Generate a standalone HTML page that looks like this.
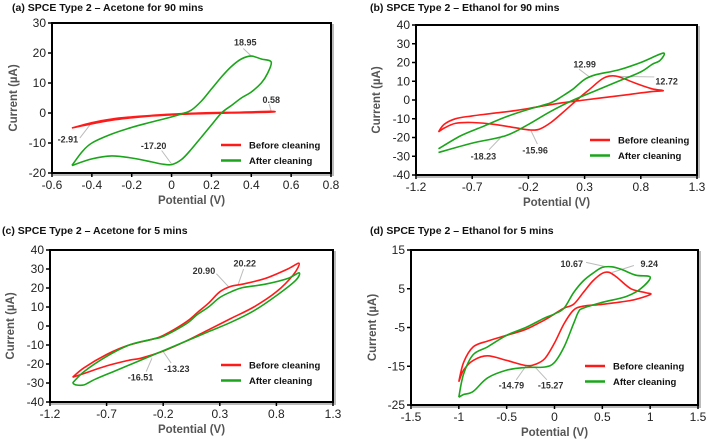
<!DOCTYPE html>
<html><head><meta charset="utf-8"><style>
body{margin:0;background:#fff}
svg{display:block;font-family:"Liberation Sans",Arial,sans-serif}
.tk{font-size:12px;fill:#222}
.ttl{font-size:10.5px;font-weight:bold;fill:#111}
.ax{font-size:11.5px;font-weight:bold;fill:#555}
.ann{font-size:9px;font-weight:bold;fill:#333}
.leg{font-size:9.5px;font-weight:bold;fill:#111}
</style></head><body>
<svg id="c" width="708" height="443" viewBox="0 0 708 443"></svg>
<script>
// Panel (a)
const aRedX=[-0.5,-0.4,-0.3,-0.2,-0.1,0,0.1,0.2,0.3,0.4,0.5,0.5,0.3,0.1,0,-0.1,-0.2,-0.3,-0.4,-0.5];
const aRedY=[-5,-3.2,-2,-1.3,-0.8,-0.4,-0.1,0.1,0.2,0.35,0.58,0.3,0,-0.3,-0.6,-1,-1.6,-2.4,-3.6,-5];
const aGrnX=[-0.5,-0.45,-0.4,-0.3,-0.2,-0.1,0,0.05,0.1,0.15,0.2,0.25,0.3,0.35,0.4,0.45,0.5,0.48,0.45,0.4,0.35,0.3,0.25,0.2,0.15,0.1,0.05,0,-0.05,-0.1,-0.2,-0.3,-0.4,-0.5];
const aGrnY=[-17.5,-13,-10,-7,-4.8,-3,-1.3,-0.3,1,4,8,12,15.5,18,18.95,18,17,13,10,7,5,2.5,0,-4,-8,-12,-15.5,-17.2,-17,-16.3,-15,-14.3,-15.3,-17.5];
// Panel (b)
const bRedX=[-1,-0.95,-0.85,-0.7,-0.5,-0.3,-0.1,0.1,0.3,0.5,0.7,0.9,1.0,0.9,0.75,0.6,0.52,0.45,0.35,0.25,0.1,0,-0.1,-0.18,-0.3,-0.5,-0.7,-0.85,-0.95,-1];
const bRedY=[-17,-13,-10,-8.5,-7,-5.5,-3.5,-1.5,0,1.5,3,4.5,5,6,9,12.5,12.72,11,6,1,-7,-12,-15.5,-16,-15,-13,-12,-12.5,-15,-17];
const bGrnX=[-1,-0.7,-0.4,-0.2,0,0.2,0.4,0.6,0.8,0.9,0.97,1.0,0.8,0.6,0.4,0.3,0.2,0.1,0,-0.2,-0.4,-0.6,-0.8,-1];
const bGrnY=[-28,-23,-19,-13,-6,0,5,10,15,19,21,25,20,16,13.5,11,6,2,-1.5,-5,-9,-14,-19,-26];
// Panel (c)
const cRedX=[-1,-0.9,-0.7,-0.5,-0.3,-0.2,0,0.1,0.2,0.3,0.4,0.5,0.7,0.9,1,0.95,0.8,0.6,0.4,0.2,0,-0.2,-0.4,-0.5,-0.7,-0.9,-1];
const cRedY=[-27,-22,-15,-10,-7,-5,2,7,12,18,20.9,22,25,30,33,27,18,10,4,-2,-8,-13.2,-17,-18,-21,-25,-27];
const cGrnX=[-1,-0.9,-0.7,-0.5,-0.3,-0.2,0,0.1,0.2,0.3,0.4,0.5,0.7,0.9,1,0.97,0.8,0.6,0.4,0.2,0,-0.2,-0.4,-0.6,-0.8,-0.9,-0.97,-1];
const cGrnY=[-30,-24,-16,-10,-7,-5.5,1,6,10,15,18,20.2,22,25,28,24,16,8,2,-3,-8,-13,-18,-23,-28,-31,-31,-30];
// Panel (d)
const dRedX=[-1,-0.95,-0.85,-0.7,-0.5,-0.3,-0.1,0,0.1,0.2,0.3,0.4,0.5,0.57,0.65,0.8,0.95,1,0.8,0.5,0.3,0.2,0.1,0,-0.1,-0.2,-0.3,-0.5,-0.7,-0.85,-0.95,-1];
const dRedY=[-19,-14,-10,-8.5,-7,-5.5,-3,-1.5,0,1,4,7,9,9.24,8,5,4,3.5,2,1,0.5,-0.5,-4,-9,-13,-14.5,-14.8,-13.5,-12.3,-13.5,-16,-19];
const dGrnX=[-1,-0.95,-0.85,-0.7,-0.5,-0.3,-0.1,0,0.1,0.2,0.3,0.4,0.5,0.6,0.7,0.85,1,0.9,0.75,0.5,0.3,0.25,0.2,0.1,0,-0.1,-0.3,-0.5,-0.7,-0.85,-0.95,-1];
const dGrnY=[-23,-17,-12,-10,-7,-5,-2.5,-1.5,0,4,7,9,10.5,10.67,10,8.5,8,5,3,1.5,0,-1,-4,-10,-14,-15.2,-15.3,-16,-18,-21.5,-22.3,-23];
// Tick labels
const aXTicks=[-0.6,-0.4,-0.2,0,0.2,0.4,0.6,0.8];
const aYTicks=[-20,-10,0,10,20,30];
const bXTicks=[-1.2,-0.7,-0.2,0.3,0.8,1.3];
const bYTicks=[-40,-30,-20,-10,0,10,20,30,40];
const cXTicks=[-1.2,-0.7,-0.2,0.3,0.8,1.3];
const cYTicks=[-40,-30,-20,-10,0,10,20,30,40];
const dXTicks=[-1.5,-1,-0.5,0,0.5,1,1.5];
const dYTicks=[-25,-15,-5,5,15];
// Annotations: [label, px, py, lx1, ly1, lx2, ly2]
const aAnn=[["18.95",0.37,23.5,0.4,19,0.36,21.5],["0.58",0.5,4.3,0.5,0.6,0.49,3],["-2.91",-0.52,-8.8,-0.41,-4,-0.46,-8.3],["-17.20",-0.09,-11,0,-17,-0.05,-12.5]];
const bAnn=[["12.99",0.3,19,0.35,12,0.25,16.5],["12.72",1.03,10,0.56,12.6,0.92,12.3],["-18.23",-0.6,-30,-0.43,-19,-0.55,-26.5],["-15.96",-0.14,-27,-0.18,-16,-0.12,-23.5]];
const cAnn=[["20.90",0.16,29,0.38,20.5,0.27,27.5],["20.22",0.52,33,0.46,21.5,0.51,30],["-16.51",-0.4,-27,-0.3,-17,-0.35,-24],["-13.23",-0.08,-22.6,-0.2,-13.5,-0.13,-19.5]];
const dAnn=[["10.67",0.18,11.4,0.55,10.6,0.33,11.8],["9.24",0.99,11.4,0.6,9.2,0.83,11],["-14.79",-0.45,-20,-0.3,-15,-0.4,-18.5],["-15.27",-0.04,-20,-0.2,-15.3,-0.08,-18.5]];

const NS="http://www.w3.org/2000/svg";
const svg=document.getElementById('c');
function mk(tag,attrs,parent,txt){const e=document.createElementNS(NS,tag);for(const k in attrs)e.setAttribute(k,attrs[k]);if(txt!==undefined)e.textContent=txt;(parent||svg).appendChild(e);return e;}
function smooth(pts){let d="M"+pts[0][0].toFixed(1)+","+pts[0][1].toFixed(1);for(let i=0;i<pts.length-1;i++){const p0=pts[Math.max(i-1,0)],p1=pts[i],p2=pts[i+1],p3=pts[Math.min(i+2,pts.length-1)];const t=6;d+=" C"+(p1[0]+(p2[0]-p0[0])/t).toFixed(1)+","+(p1[1]+(p2[1]-p0[1])/t).toFixed(1)+" "+(p2[0]-(p3[0]-p1[0])/t).toFixed(1)+","+(p2[1]-(p3[1]-p1[1])/t).toFixed(1)+" "+p2[0].toFixed(1)+","+p2[1].toFixed(1);}return d;}
function panel(p){
  const g=mk('g',{});
  
  
  const xs=v=>p.L+(v-p.x0)/(p.x1-p.x0)*(p.R-p.L);
  const ys=v=>p.B-(v-p.y0)/(p.y1-p.y0)*(p.B-p.T);
  const t=mk('text',{x:p.tx,y:p.ty,class:'ttl'},g,p.title);
  
  
  mk('rect',{x:p.L+2,y:p.T+2,width:p.R-p.L,height:p.B-p.T,fill:'none',stroke:'#bbb','stroke-width':2},g);
  const box=mk('rect',{x:p.L,y:p.T,width:p.R-p.L,height:p.B-p.T,fill:'#fff',stroke:'#000','stroke-width':2},g);
  
  
  p.xt.forEach(v=>{const x=xs(v);mk('line',{x1:x,y1:p.B,x2:x,y2:p.B+4,stroke:'#000','stroke-width':1.5},g);
    const l=mk('text',{x:x,y:p.B+16,class:'tk','text-anchor':'middle'},g,String(v));
    
    });
  p.yt.forEach(v=>{const y=ys(v);mk('line',{x1:p.L-4,y1:y,x2:p.L,y2:y,stroke:'#000','stroke-width':1.5},g);
    const l=mk('text',{x:p.L-6,y:y+4,class:'tk','text-anchor':'end'},g,String(v));
    
    });
  const xa=mk('text',{x:(p.L+p.R)/2,y:p.B+31,class:'ax','text-anchor':'middle'},g,'Potential (V)');
  
  
  const cy=(p.T+p.B)/2;
  const ya=mk('text',{x:p.yax,y:cy,class:'ax','text-anchor':'middle',transform:'rotate(-90 '+p.yax+' '+cy+')'},g,'Current (µA)');
  
  
  p.ann.forEach(a=>{
    const ln=mk('line',{x1:xs(a[3]),y1:ys(a[4]),x2:xs(a[5]),y2:ys(a[6]),stroke:'#bbb','stroke-width':1},g);
    
    
    const tx=mk('text',{x:xs(a[1]),y:ys(a[2])+3,class:'ann','text-anchor':'middle'},g,a[0]);
    
    
  });
  [[p.rx,p.ry,'#ff1a1a','before'],[p.gx,p.gy,'#1aa51a','after']].forEach(s=>{
    const pts=s[0].map((v,i)=>[xs(v),ys(s[1][i])]);
    const path=mk('path',{d:smooth(pts),fill:'none',stroke:s[2],'stroke-width':1.6},g);
    
    
  });
  [['#ff1a1a','Before cleaning',0],['#1aa51a','After cleaning',1]].forEach(l=>{
    const y=p.legY+l[2]*15.5;
    const sw=mk('line',{x1:p.legX,y1:y,x2:p.legX+20,y2:y,stroke:l[0],'stroke-width':2.5},g);
    
    
    const lt=mk('text',{x:p.legX+28,y:y+3.5,class:'leg'},g,l[1]);
    
    
  });
}
panel({id:'a',title:'(a) SPCE Type 2 \u2013 Acetone for 90 mins',tx:12,ty:11,L:52,R:331,T:23,B:173,x0:-0.6,x1:0.8,y0:-20,y1:30,xt:aXTicks,yt:aYTicks,rx:aRedX,ry:aRedY,gx:aGrnX,gy:aGrnY,ann:aAnn,legX:221,legY:145,yax:17});
panel({id:'b',title:'(b) SPCE Type 2 \u2013 Ethanol for 90 mins',tx:370,ty:11,L:416,R:697,T:25,B:175,x0:-1.2,x1:1.3,y0:-40,y1:40,xt:bXTicks,yt:bYTicks,rx:bRedX,ry:bRedY,gx:bGrnX,gy:bGrnY,ann:bAnn,legX:590,legY:140,yax:380});
panel({id:'c',title:'(c) SPCE Type 2 \u2013 Acetone for 5 mins',tx:2,ty:234,L:50,R:333,T:250,B:402,x0:-1.2,x1:1.3,y0:-40,y1:40,xt:cXTicks,yt:cYTicks,rx:cRedX,ry:cRedY,gx:cGrnX,gy:cGrnY,ann:cAnn,legX:221,legY:365,yax:14});
panel({id:'d',title:'(d) SPCE Type 2 \u2013 Ethanol for 5 mins',tx:370,ty:234,L:411,R:698,T:250,B:405,x0:-1.5,x1:1.5,y0:-25,y1:15,xt:dXTicks,yt:dYTicks,rx:dRedX,ry:dRedY,gx:dGrnX,gy:dGrnY,ann:dAnn,legX:585,legY:366,yax:376});
</script>
</body></html>
